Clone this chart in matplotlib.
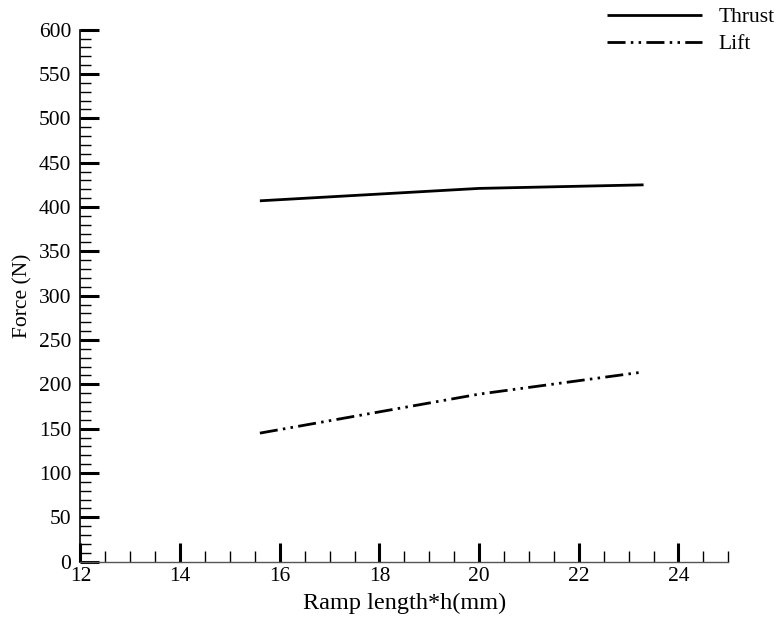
import matplotlib
matplotlib.use("Agg")
import matplotlib.pyplot as plt
from matplotlib.ticker import MultipleLocator

# Force versus ramp length
ramp_length = [15.6, 20.0, 23.3]
thrust = [407, 421, 425]
lift = [145, 189, 214]

plt.rcParams['font.family'] = ['Liberation Serif', 'DejaVu Serif']

fig = plt.figure(figsize=(7.77, 6.21), dpi=100)
ax = fig.add_axes([0.1036, 0.0955, 0.8337, 0.8567])

ax.plot(ramp_length, thrust, color='black', lw=2.0, label='Thrust',
        solid_capstyle='butt')
ax.plot(ramp_length, lift, color='black', lw=2.0, label='Lift',
        linestyle=(0, (6.5, 1.9, 0.9, 1.9, 0.9, 1.9)), dash_capstyle='butt')

ax.set_xlim(12, 25)
ax.set_ylim(0, 600)
ax.xaxis.set_major_locator(MultipleLocator(2))
ax.xaxis.set_minor_locator(MultipleLocator(0.5))
ax.yaxis.set_major_locator(MultipleLocator(50))
ax.yaxis.set_minor_locator(MultipleLocator(10))

for s in ('top', 'right'):
    ax.spines[s].set_visible(False)
ax.spines['left'].set_linewidth(1.2)
ax.spines['bottom'].set_linewidth(1.0)
ax.spines['bottom'].set_color('#555555')

ax.tick_params(which='major', direction='in', length=13.5, width=2.2,
               labelsize=15.5, color='black')
ax.tick_params(which='minor', direction='in', length=8, width=1.0,
               color='black')
ax.tick_params(axis='y', which='major', pad=6.5)
ax.tick_params(axis='x', which='major', pad=3.5)

ax.set_xlabel('Ramp length*h(mm)', fontsize=17.5, labelpad=5)
ax.set_ylabel('Force (N)', fontsize=15.5, labelpad=4.5)

fig.legend(loc='upper right', bbox_to_anchor=(1.0, 0.992), frameon=False,
           fontsize=15.5, handlelength=4.4, handletextpad=0.8,
           labelspacing=0.33, borderaxespad=0.0, borderpad=0.1)

fig.savefig('out.png', dpi=100)
